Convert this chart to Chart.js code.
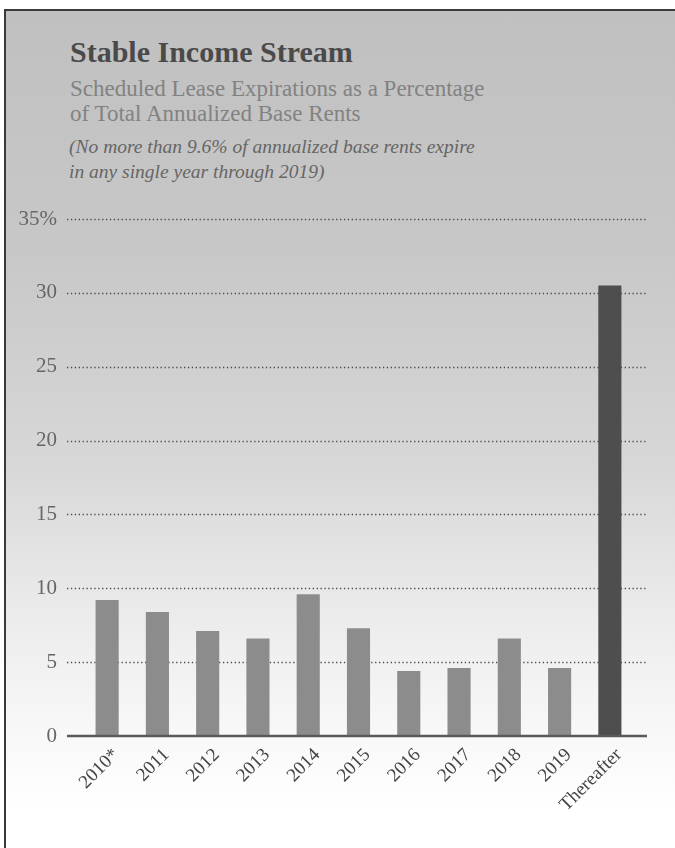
<!DOCTYPE html>
<html>
<head>
<meta charset="utf-8">
<script src="https://cdn.jsdelivr.net/npm/chart.js@4/dist/chart.umd.min.js"></script>
<style>
  html, body { margin: 0; padding: 0; background: #fff; }
  body { width: 675px; height: 848px; position: relative; overflow: hidden; font-family: "Liberation Serif", "DejaVu Serif", serif; }
  .panel {
    position: absolute; left: 4px; top: 9px; width: 720px; height: 900px;
    border-left: 2px solid #3a3a3a; border-top: 2px solid #3a3a3a;
    background: linear-gradient(to bottom, #c0c0c0 0px, #c8c8c8 250px, #d8d8d8 460px, #ebebeb 600px, #f8f8f8 720px, #ffffff 800px);
  }
  .title { position: absolute; left: 70px; top: 35px; font-size: 30px; font-weight: bold; color: #4a4a4a; }
  .sub { position: absolute; left: 70px; top: 76px; font-size: 23px; line-height: 25px; color: #828282; }
  .note { position: absolute; left: 69px; top: 134px; font-size: 19.5px; line-height: 25px; font-style: italic; color: #666; }
  #wrap { position: absolute; left: 0; top: 0; width: 675px; height: 848px; }
</style>
</head>
<body>
<div class="panel"></div>
<div class="title">Stable Income Stream</div>
<div class="sub">Scheduled Lease Expirations as a Percentage<br>of Total Annualized Base Rents</div>
<div class="note">(No more than 9.6% of annualized base rents expire<br>in any single year through 2019)</div>
<div id="wrap"><canvas id="chart"></canvas></div>
<script>
  // values (percent of annualized base rent)
  const years = ["2010*", "2011", "2012", "2013", "2014", "2015", "2016", "2017", "2018", "2019", "Thereafter"];
  const pctExpiring = [9.2, 8.4, 7.1, 6.6, 9.6, 7.3, 4.4, 4.6, 6.6, 4.6, 30.5];
  const yTicks = [0, 5, 10, 15, 20, 25, 30, 35];

  const barColors = years.map((y) => (y === "Thereafter" ? "#4e4e4e" : "#8c8c8c"));

  // dotted gridlines and the base line run a little past the bars on both sides
  const gridPlugin = {
    id: "dottedGrid",
    beforeDatasetsDraw(chart) {
      const { ctx, chartArea, scales } = chart;
      ctx.save();
      ctx.strokeStyle = "#4a4a4a";
      ctx.lineWidth = 1.3;
      ctx.setLineDash([1.3, 2.6]);
      yTicks.forEach((v) => {
        if (v === 0) return;
        const y = Math.round(scales.y.getPixelForValue(v)) + 0.5;
        ctx.beginPath();
        ctx.moveTo(chartArea.left - 15, y);
        ctx.lineTo(chartArea.right + 12, y);
        ctx.stroke();
      });
      ctx.restore();
    },
    afterDatasetsDraw(chart) {
      const { ctx, chartArea, scales } = chart;
      const y = scales.y.getPixelForValue(0);
      ctx.save();
      ctx.strokeStyle = "#5a5a5a";
      ctx.lineWidth = 2.5;
      ctx.beginPath();
      ctx.moveTo(chartArea.left - 15, y);
      ctx.lineTo(chartArea.right + 12, y);
      ctx.stroke();
      ctx.restore();
    },
  };

  new Chart(document.getElementById("chart"), {
    type: "bar",
    data: {
      labels: years,
      datasets: [
        {
          data: pctExpiring,
          backgroundColor: barColors,
          categoryPercentage: 1,
          barPercentage: 0.46,
        },
      ],
    },
    options: {
      responsive: true,
      maintainAspectRatio: false,
      animation: false,
      layout: { padding: { left: 0, right: 40, top: 219, bottom: 22 } },
      plugins: {
        legend: { display: false },
        tooltip: { enabled: false },
      },
      scales: {
        y: {
          min: 0,
          max: 35,
          afterFit: (scale) => { scale.width = 82; },
          afterBuildTicks: (scale) => { scale.ticks = yTicks.map((v) => ({ value: v })); },
          grid: { display: false, drawTicks: false },
          border: { display: false },
          ticks: {
            padding: 25,
            color: "#666",
            font: { family: "Liberation Serif", size: 21 },
            callback: (v) => (v === 35 ? "35%" : v),
          },
        },
        x: {
          afterFit: (scale) => { scale.height = 90; },
          grid: { display: false, drawTicks: false },
          border: { display: false },
          ticks: {
            padding: 8,
            labelOffset: 9,
            minRotation: 45,
            maxRotation: 45,
            color: "#444",
            font: { family: "Liberation Serif", size: 19 },
          },
        },
      },
    },
    plugins: [gridPlugin],
  });
</script>
</body>
</html>
